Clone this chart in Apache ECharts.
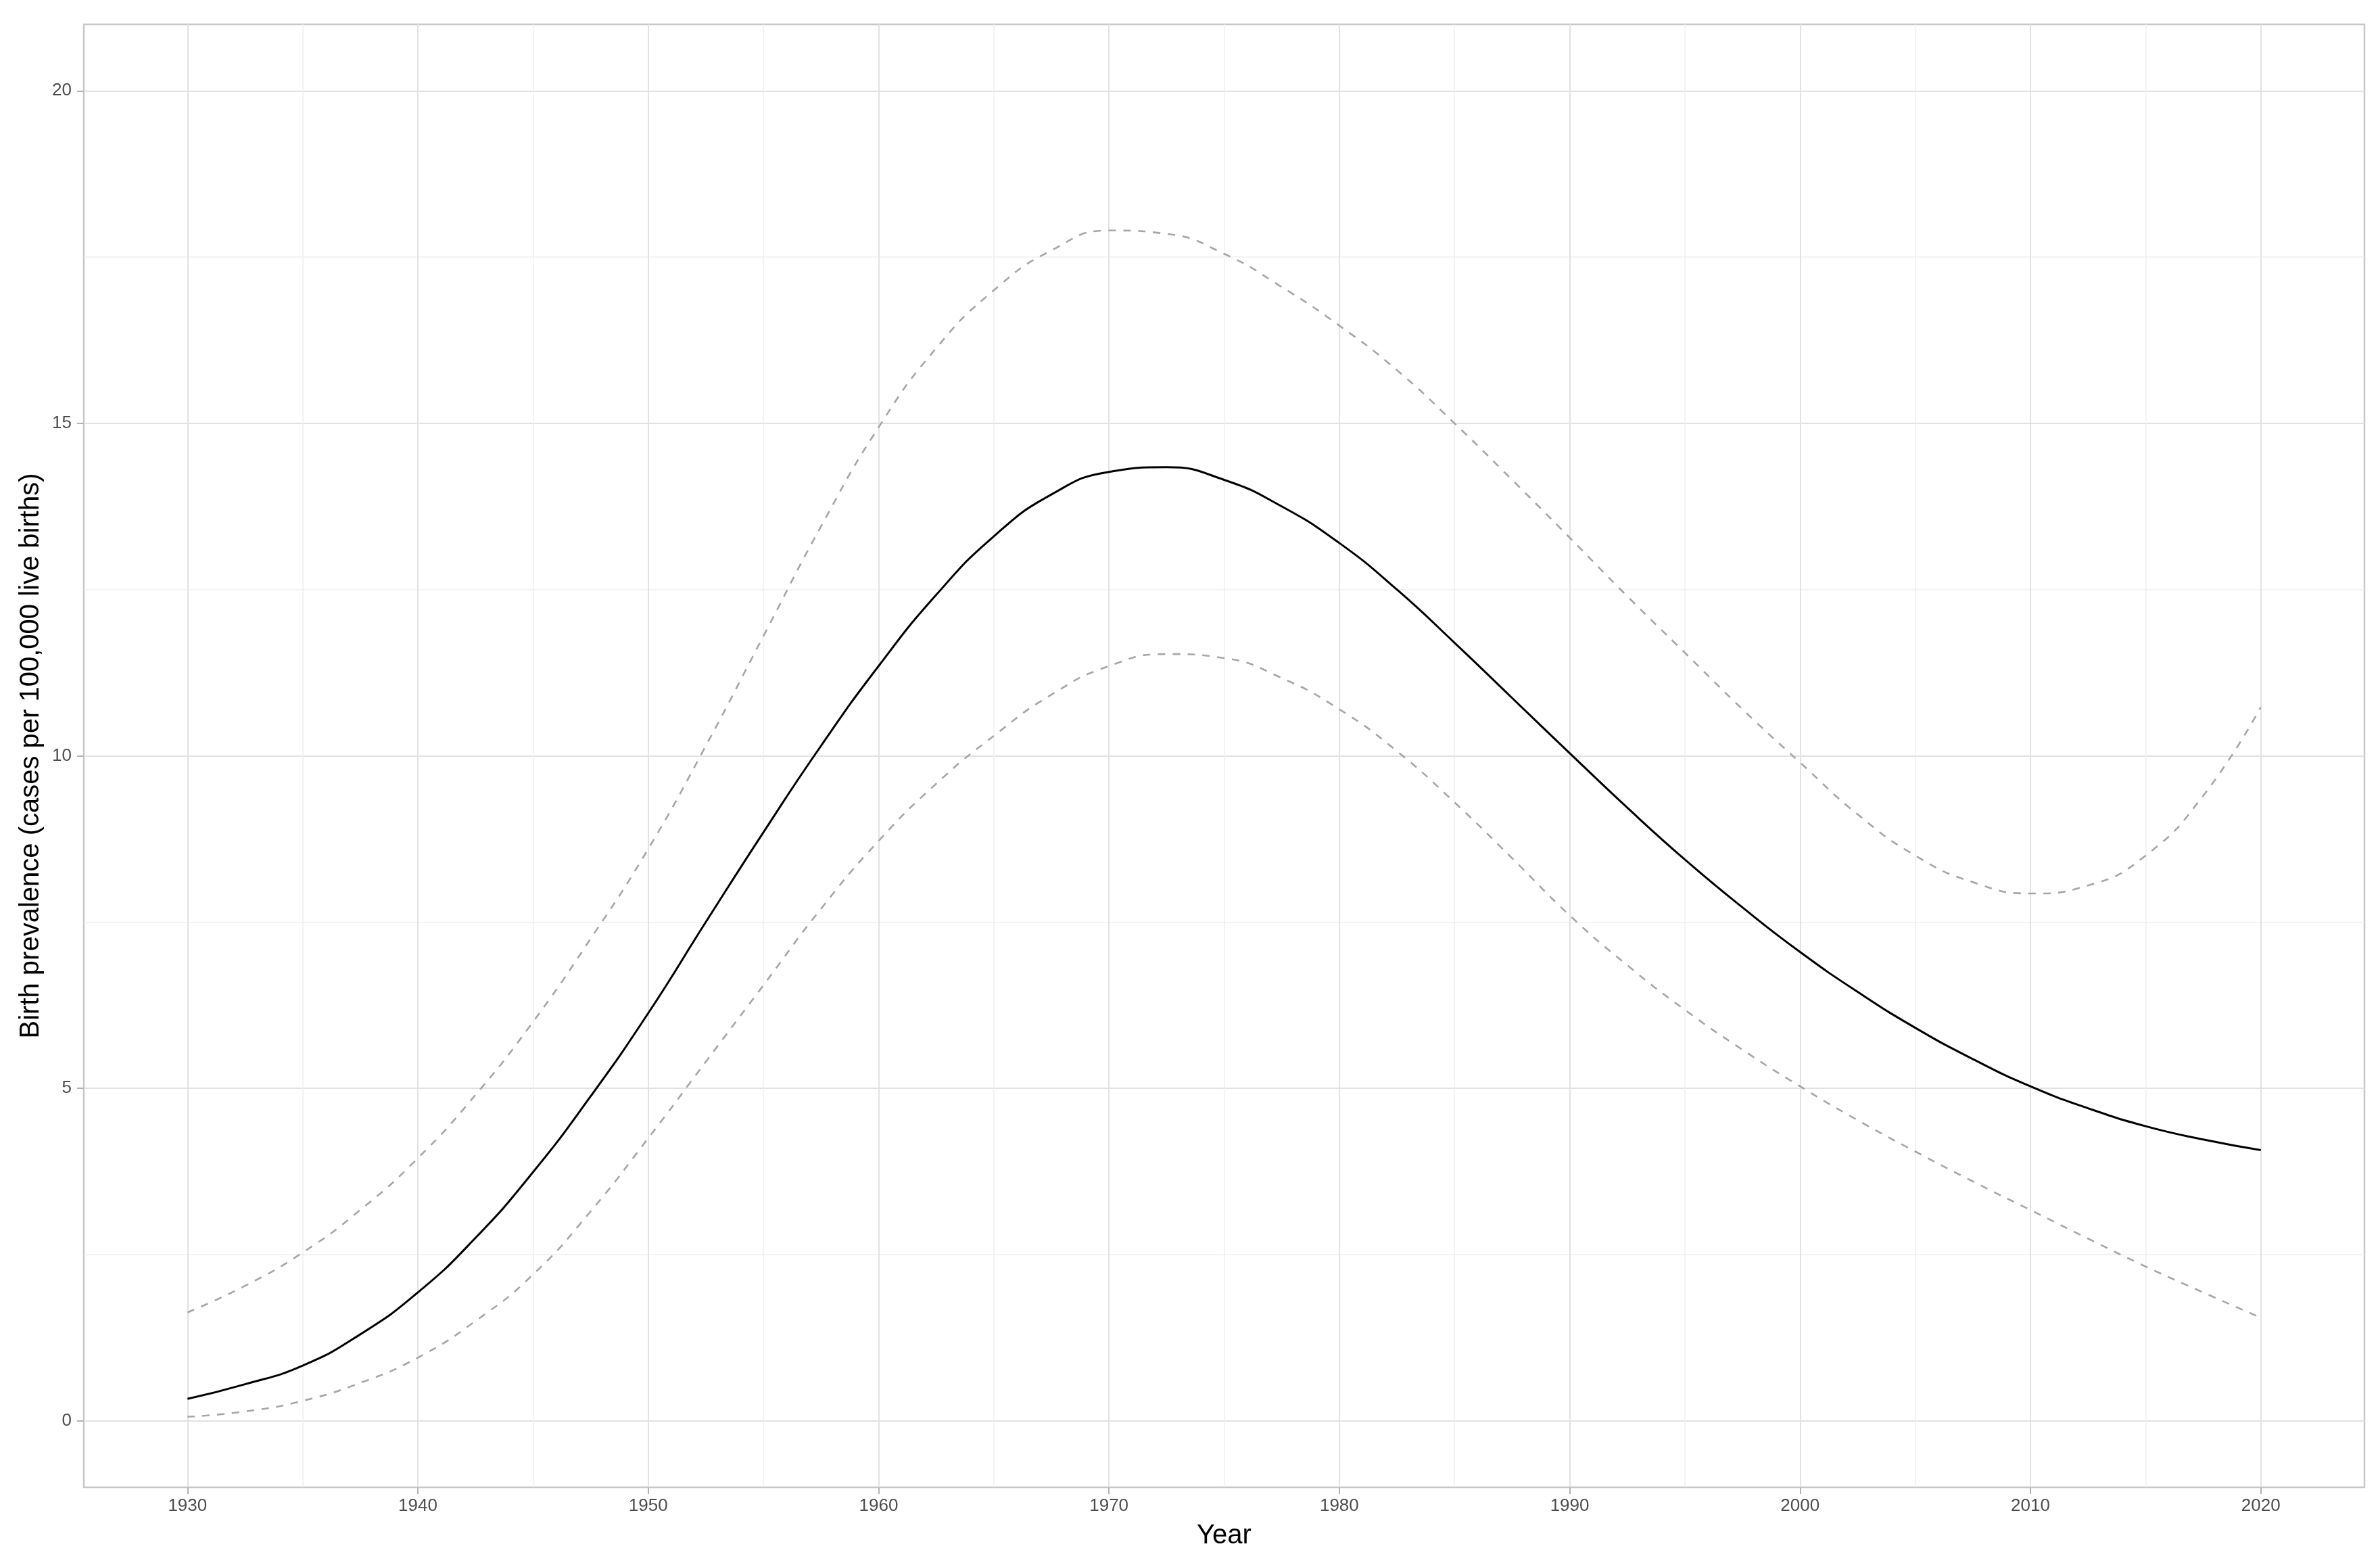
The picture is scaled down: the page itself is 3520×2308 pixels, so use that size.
<!DOCTYPE html>
<html>
<head>
<meta charset="utf-8">
<script src="https://cdn.jsdelivr.net/npm/echarts@6/dist/echarts.min.js"></script>
<style>
  html, body { margin: 0; padding: 0; background: #fff; }
  #chart { width: 3520px; height: 2308px; }
</style>
</head>
<body>
<div id="chart"></div>
<script>
// 年份（每 2.5 年一个读数）
const years = [1930, 1932.5, 1935, 1937.5, 1940, 1942.5, 1945, 1947.5, 1950, 1952.5, 1955, 1957.5,
  1960, 1962.5, 1965, 1967.5, 1970, 1972.5, 1975, 1977.5, 1980, 1982.5, 1985, 1987.5, 1990,
  1992.5, 1995, 1997.5, 2000, 2002.5, 2005, 2007.5, 2010, 2012.5, 2015, 2017.5, 2020]

// 估计值（实线）
const estimate = [0.33, 0.55, 0.83, 1.3, 1.93, 2.75, 3.74, 4.88, 6.13, 7.5, 8.85, 10.15,
  11.35, 12.42, 13.3, 13.93, 14.27, 14.34, 14.15, 13.75, 13.2, 12.5, 11.7, 10.87, 10.04,
  9.22, 8.44, 7.72, 7.05, 6.45, 5.91, 5.44, 5.03, 4.7, 4.43, 4.23, 4.07]

// 置信区间上限 / 下限（虚线）
const upper = [1.63, 2.03, 2.53, 3.17, 3.95, 4.9, 6.0, 7.25, 8.6, 10.15, 11.8, 13.45,
  14.94, 16.13, 17.0, 17.6, 17.9, 17.85, 17.55, 17.05, 16.47, 15.8, 15.0, 14.15, 13.28,
  12.4, 11.55, 10.7, 9.9, 9.12, 8.5, 8.1, 7.93, 8.05, 8.5, 9.4, 10.73]
const lower = [0.06, 0.14, 0.3, 0.57, 0.95, 1.5, 2.2, 3.15, 4.25, 5.4, 6.55, 7.7,
  8.72, 9.58, 10.3, 10.92, 11.35, 11.53, 11.47, 11.17, 10.7, 10.07, 9.3, 8.46, 7.6,
  6.85, 6.18, 5.58, 5.03, 4.52, 4.05, 3.6, 3.17, 2.74, 2.32, 1.93, 1.55]

// 刻度
const xMajor = [1930, 1940, 1950, 1960, 1970, 1980, 1990, 2000, 2010, 2020]
const xMinor = [1935, 1945, 1955, 1965, 1975, 1985, 1995, 2005, 2015]
const yMajor = [0, 5, 10, 15, 20]
const yMinor = [2.5, 7.5, 12.5, 17.5]

const font = '"Liberation Sans", Arial, sans-serif'
const zip = values => years.map((year, i) => [year, values[i]])

const majorAxis = (customValues, extra) => ({
  type: 'value',
  axisLine: { show: false, onZero: false },
  axisTick: { show: true, length: 10, lineStyle: { color: '#b3b3b3', width: 2 }, customValues },
  splitLine: { show: true, lineStyle: { color: '#e2e2e2', width: 2 } },
  nameLocation: 'middle',
  nameTextStyle: { color: '#000', fontSize: 40, fontFamily: font },
  ...extra
})

const minorAxis = (customValues, extra) => ({
  type: 'value',
  axisLine: { show: false, onZero: false },
  axisTick: { show: false, customValues },
  axisLabel: { show: false, customValues },
  splitLine: { show: true, lineStyle: { color: '#efefef', width: 1.5 } },
  ...extra
})

const tickLabel = (customValues, margin) => ({
  customValues,
  margin,
  color: '#4d4d4d',
  fontSize: 26,
  fontFamily: font,
  formatter: value => String(value)
})

const chart = echarts.init(document.getElementById('chart'))
chart.setOption({
  animation: false,
  backgroundColor: '#fff',
  grid: {
    left: 124,
    right: 23,
    top: 36,
    bottom: 109,
    show: true,
    borderColor: '#c8c8c8',
    borderWidth: 2.5,
    containLabel: false
  },
  xAxis: [
    majorAxis(xMajor, {
      min: 1925.5, max: 2024.5, position: 'bottom',
      name: 'Year', nameGap: 52,
      axisLabel: tickLabel(xMajor, 15)
    }),
    minorAxis(xMinor, { min: 1925.5, max: 2024.5, position: 'bottom' })
  ],
  yAxis: [
    majorAxis(yMajor, {
      min: -1, max: 21, position: 'left',
      name: 'Birth prevalence (cases per 100,000 live births)', nameGap: 58, nameRotate: 90,
      axisLabel: tickLabel(yMajor, 18)
    }),
    minorAxis(yMinor, { min: -1, max: 21, position: 'left' })
  ],
  series: [
    {
      type: 'line', data: zip(upper), smooth: 0.5, symbol: 'none',
      lineStyle: { color: '#a6a6a6', width: 2.6, type: [11, 11] }
    },
    {
      type: 'line', data: zip(lower), smooth: 0.5, symbol: 'none',
      lineStyle: { color: '#a6a6a6', width: 2.6, type: [11, 11] }
    },
    {
      type: 'line', data: zip(estimate), smooth: 0.5, symbol: 'none',
      lineStyle: { color: '#000', width: 3 }
    }
  ]
})
</script>
</body>
</html>
